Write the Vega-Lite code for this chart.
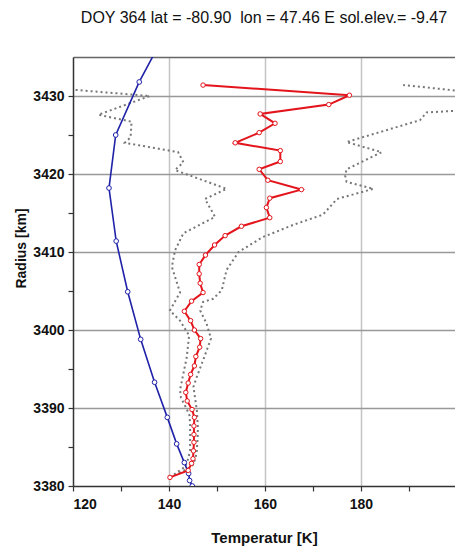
{
  "$schema": "https://vega.github.io/schema/vega-lite/v6.json",
  "width": 382,
  "height": 429,
  "autosize": "none",
  "padding": {"left": 73, "top": 57, "right": 0, "bottom": 68},
  "background": "white",
  "config": {
    "view": {"stroke": null},
    "axis": {"labelFont": "Liberation Sans", "titleFont": "Liberation Sans"}
  },
  "title": {
    "text": "DOY 364 lat = -80.90\u00a0 lon = 47.46 E sol.elev.= -9.47",
    "font": "Liberation Sans",
    "fontSize": 16,
    "fontWeight": "normal",
    "color": "#111",
    "anchor": "middle",
    "offset": 31
  },
  "datasets": {
    "red": [
      {"R": 3431.4, "T": 147.1}, {"R": 3430.1, "T": 177.6}, {"R": 3428.9, "T": 173.3},
      {"R": 3427.7, "T": 159.0}, {"R": 3426.5, "T": 162.1}, {"R": 3425.3, "T": 158.8},
      {"R": 3424.0, "T": 153.8}, {"R": 3423.0, "T": 163.2}, {"R": 3421.6, "T": 163.2},
      {"R": 3420.6, "T": 158.8}, {"R": 3419.2, "T": 160.6}, {"R": 3418.0, "T": 167.6},
      {"R": 3416.9, "T": 161.0}, {"R": 3415.7, "T": 160.3}, {"R": 3414.4, "T": 161.0},
      {"R": 3413.3, "T": 155.1}, {"R": 3412.1, "T": 151.7}, {"R": 3410.9, "T": 149.5},
      {"R": 3409.6, "T": 147.6}, {"R": 3408.4, "T": 146.3}, {"R": 3407.2, "T": 146.3},
      {"R": 3406.0, "T": 146.5}, {"R": 3404.8, "T": 147.1}, {"R": 3403.7, "T": 144.7},
      {"R": 3402.4, "T": 143.2}, {"R": 3401.2, "T": 144.5}, {"R": 3400.0, "T": 145.3},
      {"R": 3398.9, "T": 146.6}, {"R": 3397.8, "T": 146.4}, {"R": 3396.6, "T": 145.6},
      {"R": 3395.4, "T": 145.3}, {"R": 3394.3, "T": 144.5}, {"R": 3393.2, "T": 144.0},
      {"R": 3392.0, "T": 143.5}, {"R": 3390.9, "T": 143.8}, {"R": 3389.8, "T": 144.8},
      {"R": 3388.8, "T": 145.3}, {"R": 3387.7, "T": 145.2}, {"R": 3386.6, "T": 145.2},
      {"R": 3385.6, "T": 145.2}, {"R": 3384.5, "T": 145.1}, {"R": 3383.5, "T": 145.0},
      {"R": 3382.9, "T": 144.7}, {"R": 3382.0, "T": 144.0}, {"R": 3381.1, "T": 140.2}
    ],
    "blue": [
      {"R": 3438.5, "T": 139.6}, {"R": 3431.8, "T": 133.8}, {"R": 3425.0, "T": 128.9},
      {"R": 3418.2, "T": 127.5}, {"R": 3411.4, "T": 129.0}, {"R": 3404.9, "T": 131.4},
      {"R": 3398.8, "T": 134.1}, {"R": 3393.3, "T": 137.0}, {"R": 3388.8, "T": 139.65},
      {"R": 3385.4, "T": 141.6}, {"R": 3383.0, "T": 143.2}, {"R": 3381.6, "T": 144.1},
      {"R": 3380.7, "T": 144.3}, {"R": 3380.0, "T": 144.85}
    ],
    "lo": [
      {"R": 3430.8, "T": 120.1}, {"R": 3430.0, "T": 136.0}, {"R": 3427.6, "T": 125.3},
      {"R": 3426.7, "T": 132.2}, {"R": 3424.7, "T": 132.0}, {"R": 3424.0, "T": 130.8},
      {"R": 3422.8, "T": 141.9}, {"R": 3421.5, "T": 143.0}, {"R": 3420.5, "T": 141.25},
      {"R": 3418.1, "T": 152.0}, {"R": 3416.8, "T": 147.5}, {"R": 3414.5, "T": 149.6},
      {"R": 3412.4, "T": 143.0}, {"R": 3410.2, "T": 141.25}, {"R": 3408.1, "T": 140.6},
      {"R": 3404.8, "T": 142.3}, {"R": 3402.5, "T": 140.2}, {"R": 3401.2, "T": 142.3},
      {"R": 3399.3, "T": 144.2}, {"R": 3396.5, "T": 143.7}, {"R": 3394.4, "T": 143.0},
      {"R": 3392.3, "T": 142.3}, {"R": 3391.3, "T": 142.5}, {"R": 3390.0, "T": 143.6},
      {"R": 3389.0, "T": 144.3}, {"R": 3387.7, "T": 144.4}, {"R": 3386.6, "T": 144.4},
      {"R": 3385.5, "T": 144.4}, {"R": 3384.5, "T": 144.4}, {"R": 3383.5, "T": 144.0},
      {"R": 3382.5, "T": 143.4}, {"R": 3381.1, "T": 140.2}
    ],
    "hi": [
      {"R": 3431.4, "T": 188.8}, {"R": 3430.5, "T": 203.0}, {"R": 3428.2, "T": 203.0},
      {"R": 3427.9, "T": 193.7}, {"R": 3426.9, "T": 192.3}, {"R": 3424.1, "T": 177.0},
      {"R": 3422.8, "T": 184.3}, {"R": 3420.6, "T": 177.0}, {"R": 3419.8, "T": 176.7},
      {"R": 3419.0, "T": 177.0}, {"R": 3418.1, "T": 182.6}, {"R": 3416.8, "T": 175.0},
      {"R": 3414.8, "T": 172.1}, {"R": 3413.5, "T": 166.0}, {"R": 3411.9, "T": 159.5},
      {"R": 3410.0, "T": 154.5}, {"R": 3407.7, "T": 152.0}, {"R": 3405.1, "T": 151.0},
      {"R": 3404.0, "T": 149.2}, {"R": 3403.6, "T": 147.1}, {"R": 3402.5, "T": 146.5},
      {"R": 3400.8, "T": 147.85}, {"R": 3398.9, "T": 148.75}, {"R": 3396.1, "T": 147.1},
      {"R": 3394.0, "T": 145.8}, {"R": 3392.7, "T": 145.1}, {"R": 3391.0, "T": 145.5},
      {"R": 3389.7, "T": 145.8}, {"R": 3388.8, "T": 145.9}, {"R": 3387.7, "T": 146.0},
      {"R": 3386.6, "T": 146.0}, {"R": 3385.5, "T": 145.9}, {"R": 3384.5, "T": 145.8},
      {"R": 3383.5, "T": 145.5}, {"R": 3382.5, "T": 144.8}, {"R": 3381.1, "T": 140.2}
    ]
  },
  "resolve": {"axis": {"x": "independent"}},
  "layer": [
    {
      "data": {"name": "lo"},
      "mark": {"type": "line", "color": "#777777", "strokeWidth": 2, "strokeDash": [2, 3], "clip": true},
      "encoding": {
        "x": {
          "field": "T", "type": "quantitative",
          "scale": {"domain": [120, 199.6], "nice": false, "zero": false},
          "axis": {
            "orient": "bottom",
            "title": "Temperatur [K]",
            "titleFontSize": 15, "titleFontWeight": "bold", "titleColor": "#111",
            "titlePadding": 19,
            "values": [120, 130, 140, 150, 160, 170, 180, 190],
            "labelExpr": "datum.value % 20 === 0 ? format(datum.value, 'd') : ''",
            "labelFontSize": 14, "labelFontWeight": "bold", "labelColor": "#111",
            "labelPadding": 6,
            "grid": true,
            "gridColor": "#c4c4c4", "gridWidth": 1.5,
            "gridOpacity": {"condition": {"test": "datum.value % 20 === 0 && datum.value > 120", "value": 1}, "value": 0},
            "ticks": true, "tickColor": "#333", "tickSize": 5, "tickWidth": 1.2,
            "domainColor": "#333", "domainWidth": 1.5
          }
        },
        "y": {
          "field": "R", "type": "quantitative",
          "scale": {"domain": [3380, 3435], "nice": false, "zero": false},
          "axis": {
            "title": "Radius [km]",
            "titleFont": "Liberation Sans", "titleFontSize": 14, "titleFontWeight": "bold", "titleColor": "#111",
            "titleAngle": -90, "titleAlign": "center", "titleBaseline": "middle",
            "titleX": -52, "titleY": 191,
            "values": [3380, 3385, 3390, 3395, 3400, 3405, 3410, 3415, 3420, 3425, 3430],
            "labelExpr": "datum.value % 10 === 0 ? format(datum.value, 'd') : ''",
            "labelFontSize": 14, "labelFontWeight": "bold", "labelColor": "#111",
            "labelPadding": 4,
            "grid": true,
            "gridColor": "#999999", "gridWidth": 1.5,
            "gridOpacity": {"condition": {"test": "datum.value % 10 === 0 && datum.value > 3380", "value": 1}, "value": 0},
            "ticks": true, "tickColor": "#333", "tickSize": 5, "tickWidth": 1.2,
            "domainColor": "#333", "domainWidth": 1.5
          }
        },
        "order": {"field": "R", "type": "quantitative"}
      }
    },
    {
      "data": {"name": "hi"},
      "mark": {"type": "line", "color": "#777777", "strokeWidth": 2, "strokeDash": [2, 3], "clip": true},
      "encoding": {
        "x": {
          "field": "T", "type": "quantitative",
          "axis": {"orient": "top", "title": null, "labels": false, "ticks": false, "grid": false, "domainColor": "#666", "domainWidth": 1.5}
        },
        "y": {"field": "R", "type": "quantitative"},
        "order": {"field": "R", "type": "quantitative"}
      }
    },
    {
      "data": {"name": "blue"},
      "mark": {"type": "line", "color": "#1f22a8", "strokeWidth": 1.6, "clip": true,
        "point": {"filled": true, "fill": "white", "stroke": "#1f22a8", "strokeWidth": 1, "size": 22}},
      "encoding": {
        "x": {"field": "T", "type": "quantitative", "axis": null},
        "y": {"field": "R", "type": "quantitative"},
        "order": {"field": "R", "type": "quantitative"}
      }
    },
    {
      "data": {"name": "red"},
      "mark": {"type": "line", "color": "#e3141b", "strokeWidth": 2, "clip": true,
        "point": {"filled": true, "fill": "white", "stroke": "#e3141b", "strokeWidth": 1, "size": 20}},
      "encoding": {
        "x": {"field": "T", "type": "quantitative", "axis": null},
        "y": {"field": "R", "type": "quantitative"},
        "order": {"field": "R", "type": "quantitative"}
      }
    }
  ]
}
